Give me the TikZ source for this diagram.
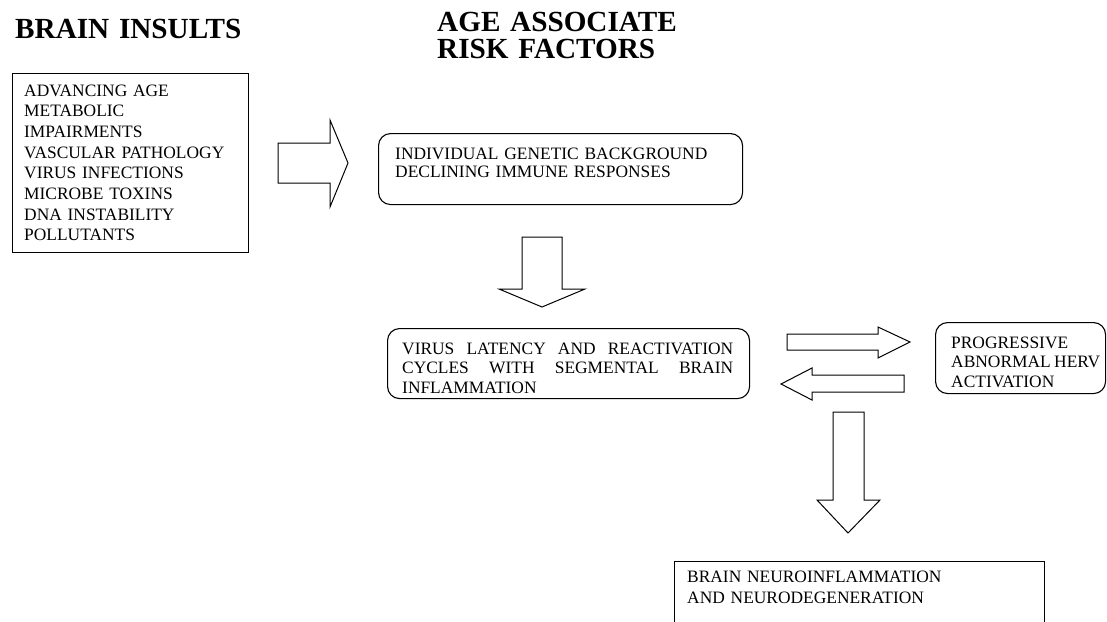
\documentclass[tikz,border=0pt]{standalone}
\usepackage{fontspec}
\setmainfont{Liberation Serif}
\usetikzlibrary{positioning}

\newcommand{\tightspace}{\fontdimen2\font=0.16em\relax}

\tikzset{
  plainbox/.style={draw, line width=1.1pt, inner sep=0pt, anchor=north west},
  roundbox/.style={plainbox, rounded corners=12pt},
  boxtext/.style={inner sep=0pt, anchor=base west, align=left, font=\fontsize{17.4}{20.7}\selectfont\tightspace},
  headline/.style={inner sep=0pt, anchor=base west, align=left, font=\fontsize{29.2}{27.3}\selectfont\bfseries},
  blockarrow/.style={draw, line width=1pt, line join=miter},
}

\begin{document}
\begin{tikzpicture}[x=1pt,y=-1pt]
  \clip (0,0) rectangle (1107,621);

  % titles
  \node[headline, text width=260] (tinsults) at (15,38) {BRAIN INSULTS};
  \node[headline, text width=300] (trisk) at (437,31) {AGE ASSOCIATE\\RISK FACTORS};

  % boxes
  \node[plainbox, minimum width=236, minimum height=179] (insults) at (12,73) {};
  \node[roundbox, minimum width=364, minimum height=71] (risk) at (378,133) {};
  \node[roundbox, minimum width=362, minimum height=70] (virus) at (387,328) {};
  \node[roundbox, minimum width=170, minimum height=71] (herv) at (935,322) {};
  \node[plainbox, minimum width=370, minimum height=90] (brain) at (674,561) {};

  % texts
  \node[boxtext, text width=220] (insultstext) at (24,96) {ADVANCING AGE\\METABOLIC\\IMPAIRMENTS\\VASCULAR PATHOLOGY\\VIRUS INFECTIONS\\MICROBE TOXINS\\DNA INSTABILITY\\POLLUTANTS};
  \node[boxtext, text width=340, font=\fontsize{17.4}{18}\selectfont\tightspace] (risktext) at (395,159) {INDIVIDUAL GENETIC BACKGROUND\\DECLINING IMMUNE RESPONSES};
  \node[boxtext, text width=331, align=justify, font=\fontsize{17.4}{19.7}\selectfont\tightspace] (virustext) at (402,354) {VIRUS LATENCY AND REACTIVATION\linebreak CYCLES WITH SEGMENTAL BRAIN\linebreak INFLAMMATION};
  \node[boxtext, text width=149, align=justify, font=\fontsize{17.4}{19.5}\selectfont\tightspace] (hervtext) at (951,348) {PROGRESSIVE\\ABNORMAL HERV\linebreak ACTIVATION};
  \node[boxtext, text width=340, font=\fontsize{17.4}{21}\selectfont\tightspace] (braintext) at (687,582) {BRAIN NEUROINFLAMMATION\\AND NEURODEGENERATION};

  % block arrows
  \draw[blockarrow] (278,143) -- (330,143) -- (330,120) -- (348,163) -- (330,207) -- (330,183) -- (278,183) -- cycle;
  \draw[blockarrow] (522,237) -- (562,237) -- (562,289) -- (585,289) -- (542,307) -- (499,289) -- (522,289) -- cycle;
  \draw[blockarrow] (787,334) -- (878,334) -- (878,327) -- (910,342) -- (878,358) -- (878,350) -- (787,350) -- cycle;
  \draw[blockarrow] (904,375) -- (812,375) -- (812,368) -- (781,384) -- (812,400) -- (812,392) -- (904,392) -- cycle;
  \draw[blockarrow] (833,412) -- (864,412) -- (864,500) -- (880,500) -- (848,533) -- (817,500) -- (833,500) -- cycle;
\end{tikzpicture}
\end{document}
